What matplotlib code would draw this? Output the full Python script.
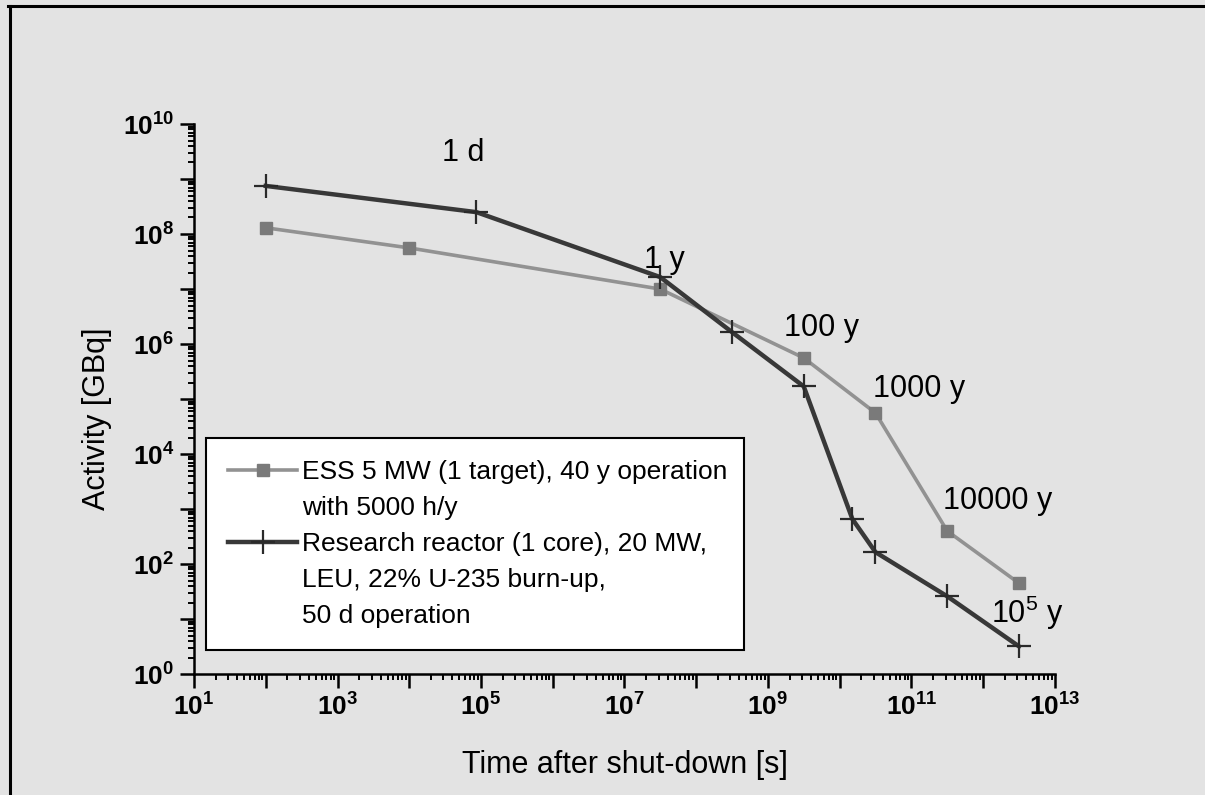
#!/usr/bin/env python3
# coding: utf-8

import matplotlib
matplotlib.use('Agg')
import matplotlib.pyplot as plt
from matplotlib.lines import Line2D
from matplotlib.ticker import FixedLocator, FixedFormatter, LogLocator, NullFormatter

# time after shut-down [s]
ess_time = [1e2, 1e4, 3.15e7, 3.15e9, 3.15e10, 3.15e11, 3.15e12]
ess_activity = [1.3e8, 5.6e7, 1.0e7, 5.6e5, 5.6e4, 4.0e2, 45]

reactor_time = [1e2, 8.64e4, 3.15e7, 3.15e8, 3.15e9, 1.5e10, 3.15e10, 3.15e11, 3.15e12]
reactor_activity = [7.5e8, 2.5e8, 1.65e7, 1.65e6, 1.7e5, 6.6e2, 1.65e2, 26, 3.2]

ess_label = ['ESS 5 MW (1 target), 40 y operation', 'with 5000 h/y']
reactor_label = ['Research reactor (1 core), 20 MW,', 'LEU, 22% U-235 burn-up,', '50 d operation']

# (text, x, y) in data coordinates
notes = [
    ('1 d', 10**4.75, 10**9.47),
    ('1 y', 10**7.55, 10**7.53),
    ('100 y', 10**9.74, 10**6.3),
    ('1000 y', 10**11.1, 10**5.19),
    ('10000 y', 10**12.2, 10**3.15),
    (r'10$^{\mathrm{5}}$ y', 10**12.62, 10**1.12),
]

BG = '#e3e3e3'
ESS_COLOR = '#929292'
REACTOR_COLOR = '#383838'


def main():
    plt.rcParams['font.family'] = ['Liberation Sans', 'DejaVu Sans']
    plt.rcParams['mathtext.fontset'] = 'custom'
    plt.rcParams['mathtext.rm'] = 'Liberation Sans'
    plt.rcParams['mathtext.bf'] = 'Liberation Sans:bold'
    plt.rcParams['mathtext.it'] = 'Liberation Sans:italic'

    fig = plt.figure(figsize=(12.05, 7.95), dpi=100, facecolor=BG)
    ax = fig.add_axes([0.161, 0.152, 0.7145, 0.692])
    ax.set_facecolor('none')

    ax.plot(ess_time, ess_activity, color=ESS_COLOR, lw=2.6, marker='s',
            ms=9, mfc='#7a7a7a', mec='#7a7a7a', zorder=2)
    ax.plot(reactor_time, reactor_activity, color=REACTOR_COLOR, lw=3.2,
            marker='+', ms=17, mew=1.6, mec='#2a2a2a', zorder=3)

    ax.set_xscale('log')
    ax.set_yscale('log')
    ax.set_xlim(1e1, 1e13)
    ax.set_ylim(1e0, 1e10)

    for axis in (ax.xaxis, ax.yaxis):
        axis.set_minor_locator(LogLocator(base=10, subs=range(2, 10), numticks=100))
        axis.set_minor_formatter(NullFormatter())
    ax.xaxis.set_major_locator(FixedLocator([10.0**k for k in range(1, 14)]))
    ax.yaxis.set_major_locator(FixedLocator([10.0**k for k in range(0, 11)]))
    ax.xaxis.set_major_formatter(FixedFormatter(
        [r'$\mathbf{10^{%d}}$' % k if k % 2 else '' for k in range(1, 14)]))
    ax.yaxis.set_major_formatter(FixedFormatter(
        [r'$\mathbf{10^{%d}}$' % k if k % 2 == 0 else '' for k in range(0, 11)]))

    ax.tick_params(which='major', direction='out', length=10, width=1.8,
                   labelsize=19, pad=4)
    ax.tick_params(which='minor', direction='out', length=4.5, width=1.4)

    for side in ('top', 'right'):
        ax.spines[side].set_visible(False)
    for side in ('left', 'bottom'):
        ax.spines[side].set_linewidth(1.8)

    ax.set_xlabel('Time after shut-down [s]', fontsize=22)
    ax.set_ylabel('Activity [GBq]', fontsize=22)
    ax.xaxis.set_label_coords(0.5, -0.137)
    ax.yaxis.set_label_coords(-0.095, 0.465)

    for text, x, y in notes:
        ax.text(x, y, text, fontsize=22, ha='center', va='center', zorder=4)

    # legend: one entry per text line so the handle sits at the first line
    blank = Line2D([], [], linestyle='none')
    h_ess = Line2D([], [], color=ESS_COLOR, lw=2.6, marker='s', ms=9,
                   mfc='#7a7a7a', mec='#7a7a7a')
    h_reactor = Line2D([], [], color=REACTOR_COLOR, lw=3.2, marker='+',
                       ms=17, mew=1.6, mec='#2a2a2a')
    handles = [h_ess, blank, h_reactor, blank, blank]
    labels = ess_label + reactor_label
    leg = ax.legend(handles, labels, loc='lower left',
                    bbox_to_anchor=(0.014, 0.044, 0.625, 0.39), mode='expand',
                    fontsize=19, frameon=True, fancybox=False, framealpha=1,
                    edgecolor='black', facecolor='white', numpoints=1,
                    handlelength=2.6, handletextpad=0.2, labelspacing=0.45,
                    borderpad=0.85, borderaxespad=0)
    leg.get_frame().set_linewidth(1.5)

    # figure frame (top and left edges)
    fig.add_artist(Line2D([0.007, 1.0], [0.993, 0.993], color='black', lw=2.2,
                          transform=fig.transFigure))
    fig.add_artist(Line2D([0.008, 0.008], [0.0, 0.993], color='black', lw=2.2,
                          transform=fig.transFigure))

    fig.savefig('out.png', dpi=100, facecolor=fig.get_facecolor())


if __name__ == '__main__':
    main()
